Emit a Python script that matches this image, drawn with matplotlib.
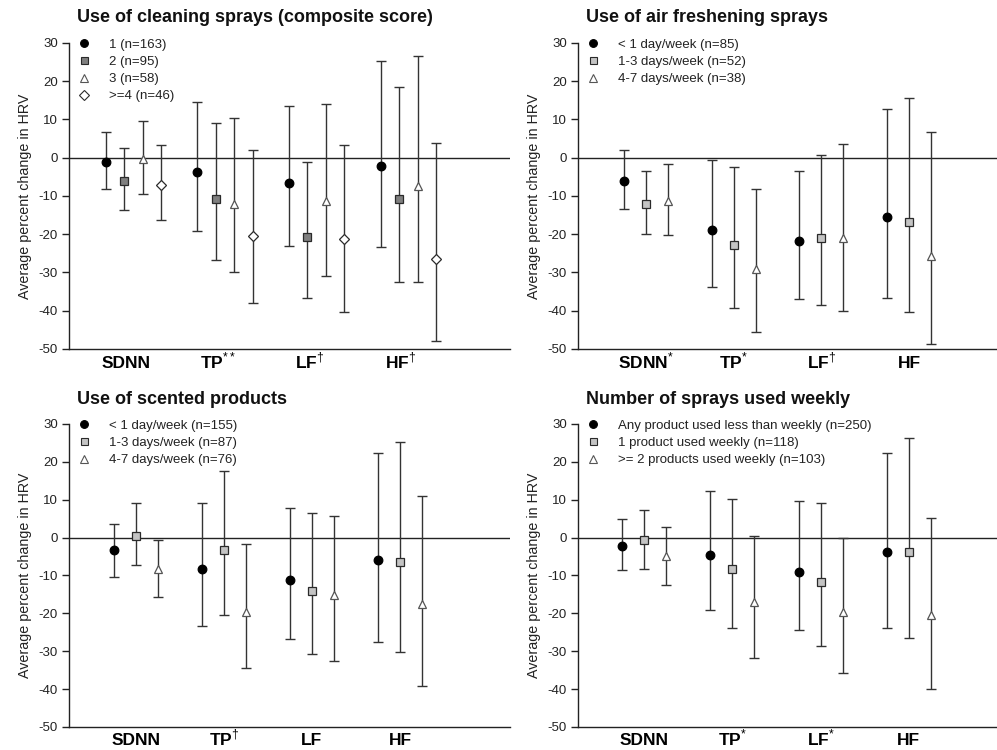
import matplotlib
matplotlib.use("Agg")
import matplotlib.pyplot as plt
from matplotlib.lines import Line2D

plt.rcParams['font.family'] = ['Liberation Sans', 'DejaVu Sans']
plt.rcParams['mathtext.fontset'] = 'custom'
plt.rcParams['mathtext.rm'] = 'Liberation Sans'
plt.rcParams['mathtext.bf'] = 'Liberation Sans:bold'
plt.rcParams['axes.unicode_minus'] = False

# ---------------- data ----------------
categories = ["SDNN", "TP", "LF", "HF"]

# Panel 1: Use of cleaning sprays (composite score)
p1_title = "Use of cleaning sprays (composite score)"
p1_ticklabels = ["SDNN", "TP$^{**}$", "LF$^{\u2020}$", "HF$^{\u2020}$"]
p1_series = ["1 (n=163)", "2 (n=95)", "3 (n=58)", ">=4 (n=46)"]
p1_mean = [[-1.0, -3.8, -6.6, -2.2],
           [-6.0, -10.7, -20.6, -10.7],
           [-0.3, -12.0, -11.2, -7.4],
           [-7.1, -20.4, -21.3, -26.6]]
p1_upper = [[6.7, 14.6, 13.4, 25.2],
            [2.5, 9.1, -1.0, 18.4],
            [9.7, 10.3, 14.0, 26.7],
            [3.3, 1.9, 3.3, 3.9]]
p1_lower = [[-8.1, -19.1, -23.1, -23.4],
            [-13.6, -26.8, -36.6, -32.6],
            [-9.6, -30.0, -30.9, -32.6],
            [-16.4, -38.0, -40.4, -47.9]]

# Panel 2: Use of air freshening sprays
p2_title = "Use of air freshening sprays"
p2_ticklabels = ["SDNN$^{*}$", "TP$^{*}$", "LF$^{\u2020}$", "HF"]
p2_series = ["< 1 day/week (n=85)", "1-3 days/week (n=52)", "4-7 days/week (n=38)"]
p2_mean = [[-6.1, -18.9, -21.8, -15.5],
           [-12.1, -22.9, -21.1, -16.8],
           [-11.3, -29.2, -20.9, -25.8]]
p2_upper = [[1.9, -0.7, -3.5, 12.7],
            [-3.5, -2.4, 0.8, 15.7],
            [-1.7, -8.2, 3.7, 6.8]]
p2_lower = [[-13.4, -33.9, -36.9, -36.6],
            [-19.9, -39.3, -38.4, -40.4],
            [-20.2, -45.5, -40.1, -48.7]]

# Panel 3: Use of scented products
p3_title = "Use of scented products"
p3_ticklabels = ["SDNN", "TP$^{\u2020}$", "LF", "HF"]
p3_series = ["< 1 day/week (n=155)", "1-3 days/week (n=87)", "4-7 days/week (n=76)"]
p3_mean = [[-3.3, -8.4, -11.1, -5.9],
           [0.4, -3.2, -14.0, -6.4],
           [-8.2, -19.7, -15.2, -17.4]]
p3_upper = [[3.7, 9.1, 7.9, 22.3],
            [9.1, 17.7, 6.6, 25.2],
            [-0.6, -1.8, 5.7, 11.1]]
p3_lower = [[-10.3, -23.4, -26.8, -27.6],
            [-7.2, -20.5, -30.8, -30.2],
            [-15.7, -34.5, -32.5, -39.1]]

# Panel 4: Number of sprays used weekly
p4_title = "Number of sprays used weekly"
p4_ticklabels = ["SDNN", "TP$^{*}$", "LF$^{*}$", "HF"]
p4_series = ["Any product used less than weekly (n=250)",
             "1 product used weekly (n=118)",
             ">= 2 products used weekly (n=103)"]
p4_mean = [[-2.1, -4.7, -9.0, -3.7],
           [-0.7, -8.4, -11.8, -3.9],
           [-4.9, -16.9, -19.7, -20.5]]
p4_upper = [[4.8, 12.3, 9.7, 22.3],
            [7.4, 10.2, 9.1, 26.4],
            [2.8, 0.4, -0.2, 5.3]]
p4_lower = [[-8.6, -19.1, -24.5, -24.0],
            [-8.3, -24.0, -28.6, -26.5],
            [-12.6, -31.7, -35.8, -39.9]]

# ---------------- styles ----------------
EDGE = "#2a2a2a"
style4 = [dict(marker="o", mfc="black", mec="black", ms=6.2),
          dict(marker="s", mfc="#7f7f7f", mec=EDGE, ms=5.6),
          dict(marker="^", mfc="white", mec="#555555", ms=6.0),
          dict(marker="D", mfc="white", mec=EDGE, ms=5.6)]
style3 = [dict(marker="o", mfc="black", mec="black", ms=6.2),
          dict(marker="s", mfc="#c4c4c4", mec=EDGE, ms=5.6),
          dict(marker="^", mfc="white", mec="#555555", ms=6.0)]

fig = plt.figure(figsize=(9.97, 7.5), dpi=100)

panels = [
    dict(rect=[0.0692, 0.5347, 0.4423, 0.408], title=p1_title, ticks=p1_ticklabels,
         series=p1_series, mean=p1_mean, up=p1_upper, lo=p1_lower, styles=style4,
         spacing=0.202, xlim=(0.295, 5.11), lab_off=-0.08, pad=13.7),
    dict(rect=[0.5797, 0.5347, 0.4203, 0.408], title=p2_title, ticks=p2_ticklabels,
         series=p2_series, mean=p2_mean, up=p2_upper, lo=p2_lower, styles=style3,
         spacing=0.25, xlim=(0.227, 5.0), lab_off=0.0, pad=13.7),
    dict(rect=[0.0692, 0.0307, 0.4423, 0.404], title=p3_title, ticks=p3_ticklabels,
         series=p3_series, mean=p3_mean, up=p3_upper, lo=p3_lower, styles=style3,
         spacing=0.25, xlim=(0.239, 5.25), lab_off=0.0, pad=13.0),
    dict(rect=[0.5797, 0.0307, 0.4203, 0.404], title=p4_title, ticks=p4_ticklabels,
         series=p4_series, mean=p4_mean, up=p4_upper, lo=p4_lower, styles=style3,
         spacing=0.25, xlim=(0.25, 5.0), lab_off=0.0, pad=13.0),
]

for p in panels:
    ax = fig.add_axes(p["rect"])
    n = len(p["series"])
    handles = []
    for i in range(n):
        off = (i - (n - 1) / 2.0) * p["spacing"]
        xs = [k + 1 + off for k in range(len(categories))]
        m = p["mean"][i]
        yerr = [[m[k] - p["lo"][i][k] for k in range(len(m))],
                [p["up"][i][k] - m[k] for k in range(len(m))]]
        st = p["styles"][i]
        ax.errorbar(xs, m, yerr=yerr, fmt="none", ecolor="#333333",
                    elinewidth=1.0, capsize=3.6, capthick=1.0, zorder=2)
        ax.plot(xs, m, linestyle="none", marker=st["marker"], ms=st["ms"],
                mfc=st["mfc"], mec=st["mec"], mew=0.9, zorder=3)
        handles.append(Line2D([], [], linestyle="none", marker=st["marker"],
                              ms=st["ms"] * 0.9, mfc=st["mfc"], mec=st["mec"], mew=0.8))
    ax.axhline(0, color="#222222", lw=1.0, zorder=1)
    ax.set_ylim(-50, 30)
    ax.set_xlim(*p["xlim"])
    ax.set_yticks(range(-50, 31, 10))
    ax.set_xticks([k + 1 + p["lab_off"] for k in range(len(categories))])
    ax.set_xticklabels(p["ticks"], fontsize=12.5, fontweight="bold")
    for lab in ax.get_xticklabels():
        lab.set_verticalalignment("baseline")
    ax.tick_params(axis="x", length=0, pad=p["pad"])
    ax.tick_params(axis="y", length=5, width=1.0, labelsize=9.5, color="#222222",
                   labelcolor="#222222", pad=3)
    for s in ["top", "right"]:
        ax.spines[s].set_visible(False)
    for s in ["left", "bottom"]:
        ax.spines[s].set_color("#222222")
        ax.spines[s].set_linewidth(1.0)
    ax.set_ylabel("Average percent change in HRV", fontsize=10.3, color="#222222", labelpad=5)
    ax.text(0.018, 1.082, p["title"], transform=ax.transAxes, fontsize=13,
            fontweight="bold", ha="left", va="center", color="#111111")
    ax.legend(handles, p["series"], loc="upper left", bbox_to_anchor=(0.02, 1.015),
              frameon=False, fontsize=9.5, handlelength=1.0, handletextpad=1.4,
              labelspacing=0.38, borderpad=0, borderaxespad=0,
              labelcolor="#222222")

fig.savefig("out.png", dpi=100)
